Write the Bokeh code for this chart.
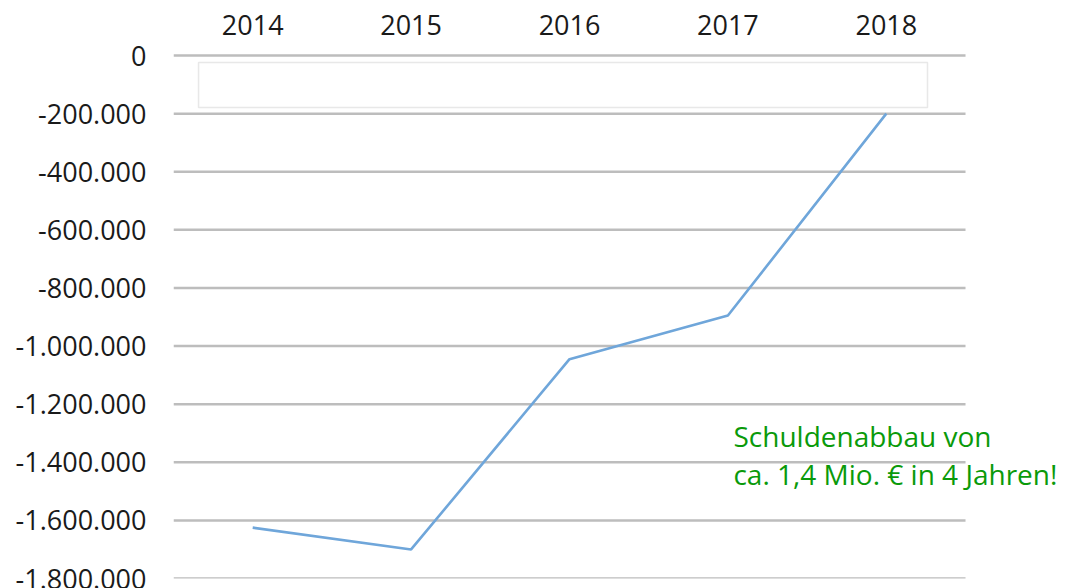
from bokeh.plotting import figure
from bokeh.models import (Range1d, FixedTicker, CustomJSTickFormatter,
                          BoxAnnotation, Label, LinearAxis)
from bokeh.embed import file_html
from bokeh.resources import INLINE

years = [2014, 2015, 2016, 2017, 2018]
balance = [-1625000, -1700000, -1045000, -895000, -200000]
y_ticks = [0, -200000, -400000, -600000, -800000, -1000000, -1200000,
           -1400000, -1600000, -1800000]
note_lines = ["Schuldenabbau von", "ca. 1,4 Mio. \u20ac in 4 Jahren!"]

FONT = "Open Sans"
TXT = "#1a1a1a"

p = figure(width=1066, height=588, output_backend="svg", toolbar_location=None,
           x_range=Range1d(years[0] - 0.5, years[-1] + 1.087),
           y_range=Range1d(-1800000, 7000),
           x_axis_location=None, y_axis_location=None,
           min_border_left=173, min_border_right=8, min_border_top=53,
           min_border_bottom=10)
p.outline_line_color = None
p.background_fill_color = "white"
p.border_fill_color = "white"

xaxis = LinearAxis(ticker=FixedTicker(ticks=years))
xaxis.formatter = CustomJSTickFormatter(code="return tick.toFixed(0);")
xaxis.axis_line_color = None
xaxis.major_tick_line_color = None
xaxis.minor_tick_line_color = None
xaxis.major_label_text_font = FONT
xaxis.major_label_text_font_size = "27px"
xaxis.major_label_text_color = TXT
xaxis.major_label_standoff = 13
p.add_layout(xaxis, "above")

yaxis = LinearAxis(ticker=FixedTicker(ticks=y_ticks))
yaxis.formatter = CustomJSTickFormatter(code="""
    const s = Math.abs(tick).toFixed(0).replace(/\\B(?=(\\d{3})+(?!\\d))/g, '.');
    return (tick < 0 ? '-' : '') + s;
""")
yaxis.axis_line_color = None
yaxis.major_tick_line_color = None
yaxis.minor_tick_line_color = None
yaxis.major_label_text_font = FONT
yaxis.major_label_text_font_size = "27px"
yaxis.major_label_text_color = TXT
yaxis.major_label_standoff = 21
p.add_layout(yaxis, "left")

p.xgrid.grid_line_color = None
p.ygrid.grid_line_color = None

# horizontal gridlines spanning the category slots only
p.segment(x0=[years[0] - 0.5] * len(y_ticks), x1=[years[-1] + 0.5] * len(y_ticks),
          y0=y_ticks, y1=y_ticks, line_color="#bdbdbd", line_width=2.5)

# empty legend frame
p.add_layout(BoxAnnotation(left=2013.658, right=2018.26, top=-24000, bottom=-179000,
                           fill_color="white", fill_alpha=1.0,
                           line_color="#b3b3b3", line_width=1.5, level="underlay"))

p.line(x=years, y=balance, line_color="#6fa6da", line_width=2.6)

note_y = [-1308000, -1439000]
for t, yy in zip(note_lines, note_y):
    p.add_layout(Label(x=2017.035, y=yy, text=t, text_font=FONT, text_font_size="28px",
                       text_color="#0a9a0a", text_baseline="alphabetic",
                       text_align="left"))

open("out.html", "w").write(file_html(p, INLINE))
